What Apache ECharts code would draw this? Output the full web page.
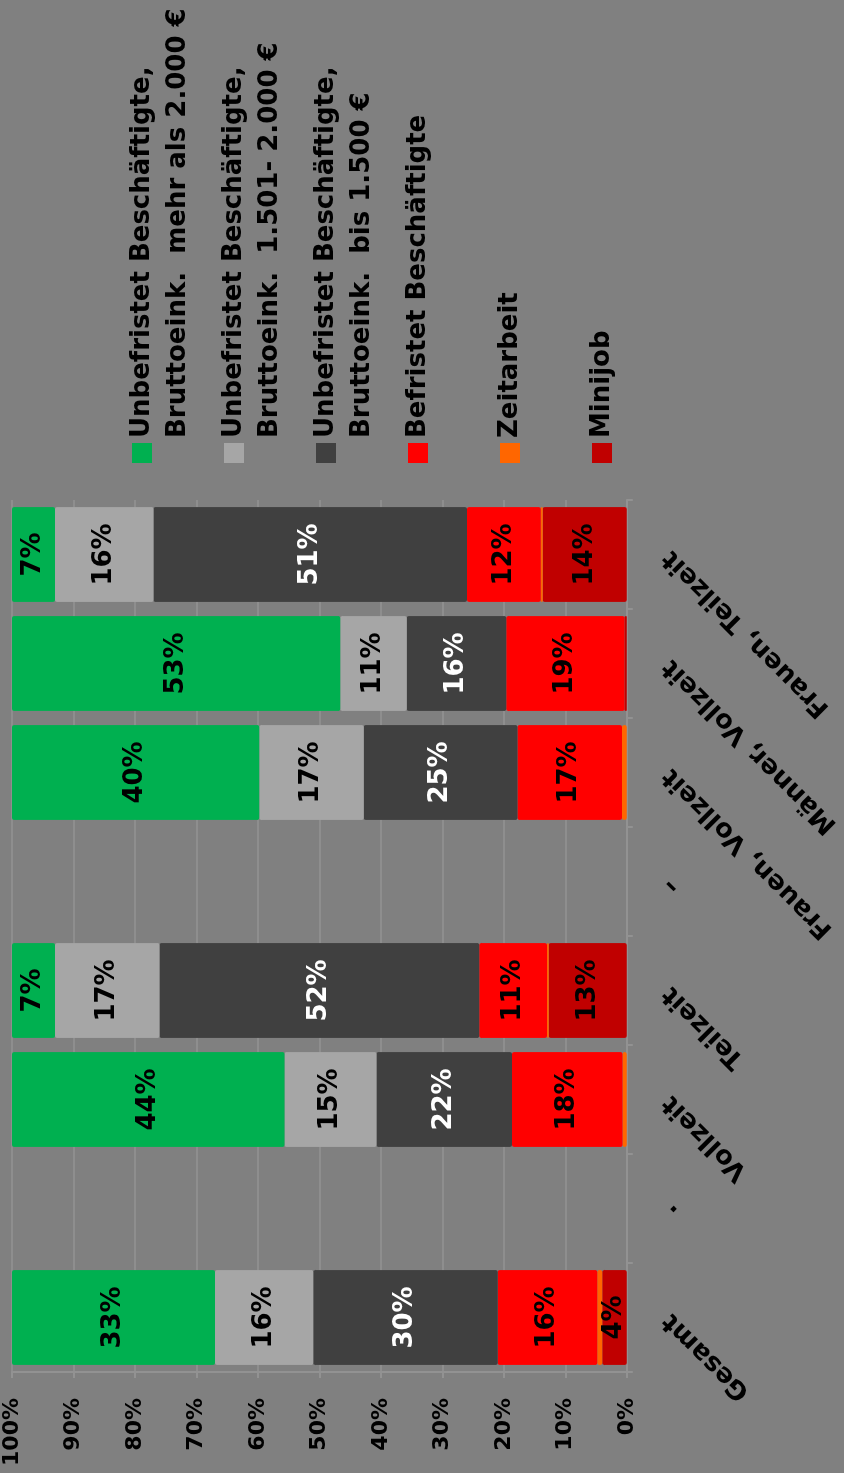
<!DOCTYPE html>
<html>
<head>
<meta charset="utf-8">
<script src="https://cdn.jsdelivr.net/npm/echarts@6/dist/echarts.min.js"></script>
<style>
  html, body { margin: 0; padding: 0; background: #808080; overflow: hidden; }
  /* chart is laid out upright (1473 x 844) and turned a quarter counter-clockwise */
  #chart {
    position: absolute; left: 0; top: 0;
    width: 1473px; height: 844px;
    transform-origin: 0 0;
    transform: translateY(1473px) rotate(-90deg);
  }
</style>
</head>
<body>
<div id="chart"></div>
<script>
var categories = ['Gesamt', '.', 'Vollzeit', 'Teilzeit', '\u2013', 'Frauen, Vollzeit', 'M\u00e4nner, Vollzeit', 'Frauen, Teilzeit'];
var valueTicks = [0, 10, 20, 30, 40, 50, 60, 70, 80, 90, 100];

// shares in %, stacked from 0 upwards
var minijob    = [4,    null, 0,    12.7, null, 0,    0.4,  13.7];
var zeitarbeit = [0.8,  null, 0.7,  0.3,  null, 0.8,  0,    0.3];
var befristet  = [16.2, null, 18,   11,   null, 17,   19.2, 12];
var bis1500    = [30,   null, 22,   52,   null, 25,   16.2, 51];
var bis2000    = [16,   null, 15,   17,   null, 17,   10.8, 16];
var ueber2000  = [33,   null, 44.3, 7,    null, 40.2, 53.4, 7];

var names = [
    'Unbefristet Besch\u00e4ftigte,\nBruttoeink.  mehr als 2.000 \u20ac',
    'Unbefristet Besch\u00e4ftigte,\nBruttoeink.  1.501- 2.000 \u20ac',
    'Unbefristet Besch\u00e4ftigte,\nBruttoeink.  bis 1.500 \u20ac',
    'Befristet Besch\u00e4ftigte',
    'Zeitarbeit',
    'Minijob'
];

var FONT = 'DejaVu Sans';

function makeSeries(name, data, color, labelColor) {
    return {
        name: name,
        type: 'bar',
        stack: 'all',
        data: data,
        barCategoryGap: '13%',
        itemStyle: { color: color, borderRadius: 2 },
        label: {
            show: true,
            position: 'inside',
            color: labelColor,
            fontFamily: FONT,
            fontWeight: 'bold',
            fontSize: 26,
            formatter: function (p) {
                return p.value >= 2 ? Math.round(p.value) + '%' : '';
            }
        }
    };
}

// two-line entries get an empty first line so the marker sits beside line one;
// one-line entries get padding so every entry has the same height
var legendItems = names.map(function (n) {
    var twoLines = n.indexOf('\n') >= 0;
    return twoLines ? { name: n } : { name: n, textStyle: { padding: [36, 0, 36, 0] } };
});

var option = {
    backgroundColor: '#808080',
    animation: false,
    grid: { left: 101, right: 500, top: 12, bottom: 217 },
    legend: {
        orient: 'vertical',
        left: 1010,
        top: 88,
        padding: 0,
        itemGap: -16,
        itemWidth: 20,
        itemHeight: 20,
        icon: 'rect',
        data: legendItems,
        formatter: function (n) {
            return n.indexOf('\n') >= 0 ? '\n' + n : n;
        },
        textStyle: {
            color: '#000',
            fontFamily: FONT,
            fontWeight: 'bold',
            fontSize: 26,
            lineHeight: 36
        }
    },
    xAxis: {
        type: 'category',
        data: categories,
        axisLine: { lineStyle: { color: '#929292', width: 2 } },
        axisTick: { show: true, length: 6, lineStyle: { color: '#929292', width: 2 } },
        axisLabel: {
            rotate: 45,
            margin: 40,
            color: '#000',
            fontFamily: FONT,
            fontWeight: 'bold',
            fontSize: 26
        }
    },
    yAxis: {
        type: 'value',
        min: 0,
        max: 100,
        interval: 10,
        axisLine: { show: true, lineStyle: { color: '#929292', width: 2 } },
        axisTick: { show: true, length: 6, lineStyle: { color: '#929292', width: 2 } },
        splitLine: { show: true, lineStyle: { color: '#8e8e8e', width: 2 } },
        axisLabel: {
            margin: 26,
            color: '#000',
            fontFamily: FONT,
            fontWeight: 'bold',
            fontSize: 22,
            formatter: function (v) {
                return valueTicks.indexOf(v) >= 0 ? v + '%' : '';
            }
        }
    },
    series: [
        makeSeries(names[5], minijob, '#c00000', '#000'),
        makeSeries(names[4], zeitarbeit, '#ff6600', '#000'),
        makeSeries(names[3], befristet, '#ff0000', '#000'),
        makeSeries(names[2], bis1500, '#404040', '#fff'),
        makeSeries(names[1], bis2000, '#a6a6a6', '#000'),
        makeSeries(names[0], ueber2000, '#00b050', '#000')
    ]
};

var myChart = echarts.init(document.getElementById('chart'));
myChart.setOption(option);
</script>
</body>
</html>
